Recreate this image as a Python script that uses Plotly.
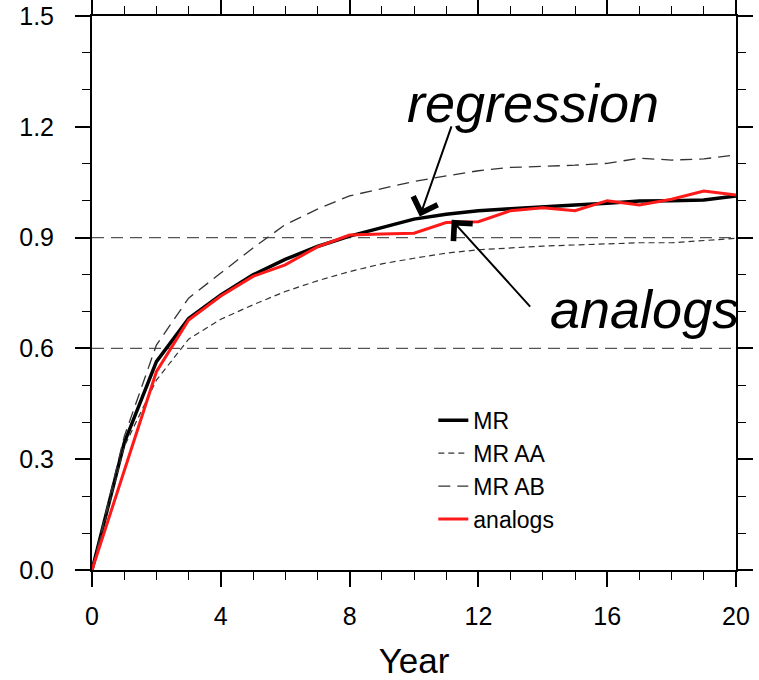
import plotly.graph_objects as go

# Lead time in years
years = list(range(0, 21))

# Multiple-regression skill and its two bounds, plus the analog method
mr = [0.0, 0.344, 0.564, 0.681, 0.745, 0.799, 0.841, 0.876, 0.904, 0.928, 0.950,
      0.963, 0.973, 0.978, 0.982, 0.988, 0.993, 0.999, 1.000, 1.002, 1.013]
mr_aa = [0.0, 0.334, 0.514, 0.625, 0.679, 0.718, 0.754, 0.783, 0.808, 0.829, 0.844,
         0.858, 0.867, 0.873, 0.877, 0.880, 0.883, 0.886, 0.886, 0.892, 0.898]
mr_ab = [0.0, 0.361, 0.609, 0.736, 0.804, 0.872, 0.935, 0.977, 1.013, 1.033, 1.052,
         1.067, 1.081, 1.090, 1.092, 1.096, 1.101, 1.115, 1.110, 1.113, 1.124]
analogs = [0.0, 0.270, 0.537, 0.677, 0.742, 0.795, 0.826, 0.875, 0.907, 0.910, 0.912,
           0.941, 0.943, 0.973, 0.981, 0.973, 1.000, 0.988, 1.004, 1.026, 1.015]

# Horizontal reference levels
ref_levels = [0.6, 0.9]

FONT = "Liberation Sans, Arial, Helvetica, sans-serif"

fig = go.Figure()

for lvl in ref_levels:
    fig.add_hline(y=lvl, line=dict(color="#555555", width=1.3, dash="12px,7px"), layer="below")

fig.add_trace(go.Scatter(x=years, y=mr, mode="lines", name="MR", legendgroup="a",
                         line=dict(color="black", width=3.5)))
fig.add_trace(go.Scatter(x=years, y=mr_aa, mode="lines", name="MR AA", legendgroup="b",
                         line=dict(color="#333333", width=1.2, dash="6px,4px")))
fig.add_trace(go.Scatter(x=years, y=mr_ab, mode="lines", name="MR AB", legendgroup="c",
                         line=dict(color="#333333", width=1.3, dash="12px,7px")))
fig.add_trace(go.Scatter(x=years, y=analogs, mode="lines", name="analogs", legendgroup="d",
                         line=dict(color="#ff1a1a", width=3)))

# Labels with arrows pointing at the curves
fig.add_annotation(x=13.69, y=1.265, text="<i>regression</i>", showarrow=False,
                   font=dict(family=FONT, size=54, color="black"))
fig.add_annotation(x=17.17, y=0.707, text="<i>analogs</i>", showarrow=False,
                   font=dict(family=FONT, size=54, color="black"))
fig.add_annotation(x=10.18, y=0.957, ax=11.18, ay=1.205, axref="x", ayref="y",
                   text="", showarrow=True, arrowhead=4, arrowsize=2.5, arrowwidth=2,
                   arrowcolor="black")
fig.add_annotation(x=11.17, y=0.948, ax=13.65, ay=0.709, axref="x", ayref="y",
                   text="", showarrow=True, arrowhead=4, arrowsize=2.5, arrowwidth=2,
                   arrowcolor="black")

axis_common = dict(
    showgrid=False, zeroline=False, showline=True, linecolor="black", linewidth=2,
    mirror="ticks", ticks="outside", tickcolor="black", tickwidth=2, ticklen=15,
    automargin=False,
)

fig.update_xaxes(
    **axis_common, range=[0, 20], tickvals=[0, 4, 8, 12, 16, 20],
    tickfont=dict(family=FONT, size=25, color="black"), ticklabelstandoff=8,
    minor=dict(ticks="outside", dtick=1, ticklen=8, tickwidth=1, tickcolor="black"),
    title=dict(text="Year", font=dict(family=FONT, size=35, color="black"), standoff=19),
)
fig.update_yaxes(
    **axis_common, range=[0, 1.5], tickvals=[0, 0.3, 0.6, 0.9, 1.2, 1.5], tickformat=".1f",
    tickfont=dict(family=FONT, size=25, color="black"), ticklabelstandoff=16,
    minor=dict(ticks="outside", dtick=0.1, ticklen=8, tickwidth=1, tickcolor="black"),
)

fig.update_layout(
    width=759, height=680,
    margin=dict(l=92, r=23, t=16, b=110),
    plot_bgcolor="white", paper_bgcolor="white",
    showlegend=True,
    legend=dict(x=0.53, y=0.309, xanchor="left", yanchor="top", bgcolor="rgba(0,0,0,0)",
                font=dict(family=FONT, size=23, color="black"), tracegroupgap=0,
                itemwidth=30),
)

fig.write_html("out.html")
